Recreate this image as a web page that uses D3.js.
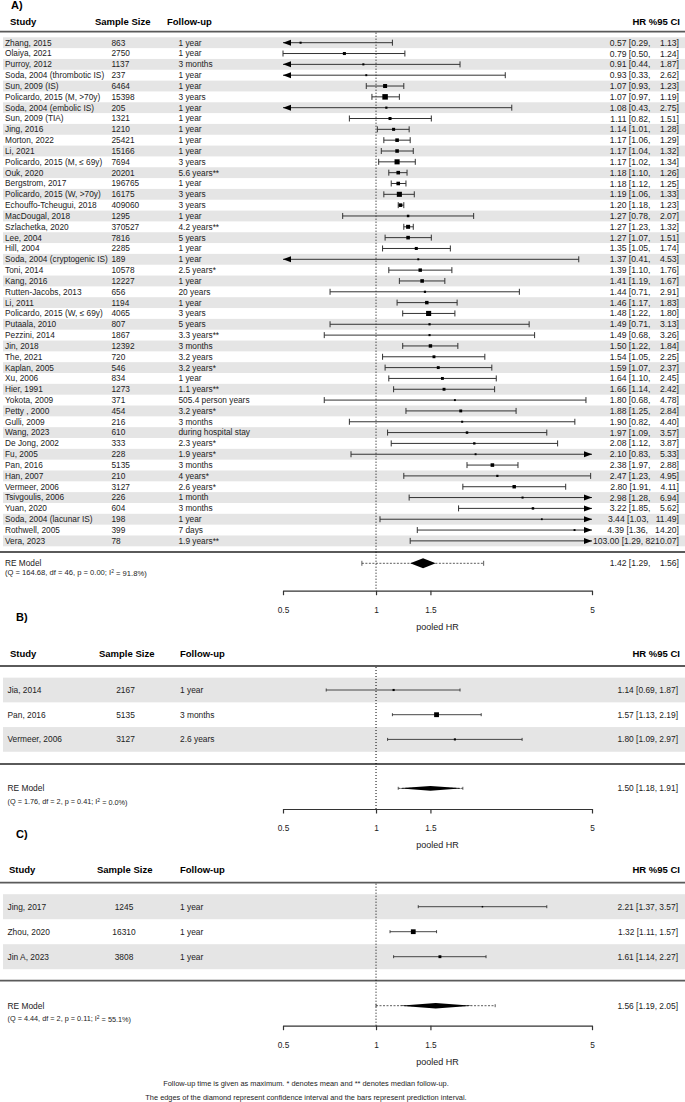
<!DOCTYPE html>
<html>
<head>
<meta charset="utf-8">
<script src="https://cdn.jsdelivr.net/npm/d3@7"></script>
<style>
  body { margin: 0; background: #fff; }
  svg { display: block; }
  text { font-family: "Liberation Sans", Arial, sans-serif; fill: #222; }
</style>
</head>
<body>
<svg id="chart" width="685" height="1102"></svg>
<script>
// ---- panel A data
var studiesA = ["Zhang, 2015", "Olaiya, 2021", "Purroy, 2012", "Soda, 2004 (thrombotic IS)", "Sun, 2009 (IS)", "Policardo, 2015 (M, >70y)", "Soda, 2004 (embolic IS)", "Sun, 2009 (TIA)", "Jing, 2016", "Morton, 2022", "Li, 2021", "Policardo, 2015 (M, \u2264 69y)", "Ouk, 2020", "Bergstrom, 2017", "Policardo, 2015 (W, >70y)", "Echouffo-Tcheugui, 2018", "MacDougal, 2018", "Szlachetka, 2020", "Lee, 2004", "Hill, 2004", "Soda, 2004 (cryptogenic IS)", "Toni, 2014", "Kang, 2016", "Rutten-Jacobs, 2013", "Li, 2011", "Policardo, 2015 (W, \u2264 69y)", "Putaala, 2010", "Pezzini, 2014", "Jin, 2018", "The, 2021", "Kaplan, 2005", "Xu, 2006", "Hier, 1991", "Yokota, 2009", "Petty , 2000", "Gulli, 2009", "Wang, 2023", "De Jong, 2002", "Fu, 2005", "Pan, 2016", "Han, 2007", "Vermeer, 2006", "Tsivgoulis, 2006", "Yuan, 2020", "Soda, 2004 (lacunar IS)", "Rothwell, 2005", "Vera, 2023"];
var sampleA = [863, 2750, 1137, 237, 6464, 15398, 205, 1321, 1210, 25421, 15166, 7694, 20201, 196765, 16175, 409060, 1295, 370527, 7816, 2285, 189, 10578, 12227, 656, 1194, 4065, 807, 1867, 12392, 720, 546, 834, 1273, 371, 454, 216, 610, 333, 228, 5135, 210, 3127, 226, 604, 198, 399, 78];
var followA = ["1 year", "1 year", "3 months", "1 year", "1 year", "3 years", "1 year", "1 year", "1 year", "1 year", "1 year", "3 years", "5.6 years**", "1 year", "3 years", "3 years", "1 year", "4.2 years**", "5 years", "1 year", "1 year", "2.5 years*", "1 year", "20 years", "1 year", "3 years", "5 years", "3.3 years**", "3 months", "3.2 years", "3.2 years*", "1 year", "1.1 years**", "505.4 person years", "3.2 years*", "3 months", "during hospital stay", "2.3 years*", "1.9 years*", "3 months", "4 years*", "2.6 years*", "1 month", "3 months", "1 year", "7 days", "1.9 years**"];
var hrA = [0.57, 0.79, 0.91, 0.93, 1.07, 1.07, 1.08, 1.11, 1.14, 1.17, 1.17, 1.17, 1.18, 1.18, 1.19, 1.20, 1.27, 1.27, 1.27, 1.35, 1.37, 1.39, 1.41, 1.44, 1.46, 1.48, 1.49, 1.49, 1.50, 1.54, 1.59, 1.64, 1.66, 1.80, 1.88, 1.90, 1.97, 2.08, 2.10, 2.38, 2.47, 2.80, 2.98, 3.22, 3.44, 4.39, 103.00];
var loA = [0.29, 0.50, 0.44, 0.33, 0.93, 0.97, 0.43, 0.82, 1.01, 1.06, 1.04, 1.02, 1.10, 1.12, 1.06, 1.18, 0.78, 1.23, 1.07, 1.05, 0.41, 1.10, 1.19, 0.71, 1.17, 1.22, 0.71, 0.68, 1.22, 1.05, 1.07, 1.10, 1.14, 0.68, 1.25, 0.82, 1.09, 1.12, 0.83, 1.97, 1.23, 1.91, 1.28, 1.85, 1.03, 1.36, 1.29];
var hiA = [1.13, 1.24, 1.87, 2.62, 1.23, 1.19, 2.75, 1.51, 1.28, 1.29, 1.32, 1.34, 1.26, 1.25, 1.33, 1.23, 2.07, 1.32, 1.51, 1.74, 4.53, 1.76, 1.67, 2.91, 1.83, 1.80, 3.13, 3.26, 1.84, 2.25, 2.37, 2.45, 2.42, 4.78, 2.84, 4.40, 3.57, 3.87, 5.33, 2.88, 4.95, 4.11, 6.94, 5.62, 11.49, 14.20, 8210.07];
// relative weights (%), estimated from the square sizes
var weightA = [0.7, 1.4, 0.7, 0.6, 2.1, 3.2, 0.8, 1.4, 1.4, 1.8, 1.8, 2.9, 1.8, 1.8, 2.9, 1.8, 1.0, 2.1, 1.8, 1.4, 0.6, 1.7, 1.8, 0.8, 1.7, 2.9, 0.8, 0.7, 1.7, 1.3, 1.3, 1.3, 1.3, 0.6, 1.3, 0.7, 1.0, 0.9, 0.6, 1.8, 0.8, 1.7, 0.7, 1.0, 0.5, 0.6, 0.1];
var pooledA = [1.42, 1.29, 1.56];   // estimate, ci low, ci high
var predA = [0.90, 2.23];           // prediction interval
var statsA = ["Q = 164.68, df = 46, p = 0.00; I", "2", " = 91.8%)"];

// ---- panel B data
var studiesB = ["Jia, 2014", "Pan, 2016", "Vermeer, 2006"];
var sampleB = [2167, 5135, 3127];
var followB = ["1 year", "3 months", "2.6 years"];
var hrB = [1.14, 1.57, 1.80];
var loB = [0.69, 1.13, 1.09];
var hiB = [1.87, 2.19, 2.97];
var weightB = [23.6, 53.3, 23.2];
var pooledB = [1.50, 1.18, 1.91];
var predB = [1.18, 1.91];
var statsB = ["Q = 1.76, df = 2, p = 0.41; I", "2", " = 0.0%)"];

// ---- panel C data
var studiesC = ["Jing, 2017", "Zhou, 2020", "Jin A, 2023"];
var sampleC = [1245, 16310, 3808];
var followC = ["1 year", "1 year", "1 year"];
var hrC = [2.21, 1.32, 1.61];
var loC = [1.37, 1.11, 1.14];
var hiC = [3.57, 1.57, 2.27];
var weightC = [20, 48, 32];
var pooledC = [1.56, 1.19, 2.05];
var predC = [1.00, 2.43];
var statsC = ["Q = 4.44, df = 2, p = 0.11; I", "2", " = 55.1%)"];

var tickVals = [0.5, 1, 1.5, 5];
var footer = ["Follow-up time is given as maximum.  * denotes mean and ** denotes median follow-up.",
              "The edges of the diamond represent confidence interval and the bars represent prediction interval."];

var W = 685;
var svg = d3.select("#chart");
var x = d3.scaleLog().domain([0.5, 5]).range([283, 592]);
var xmin = x.domain()[0], xmax = x.domain()[1];
var f2 = function(v) { return v.toFixed(2); };
var NB = "\u00A0";
var pad = function(s, w) { while (s.length < w) s = NB + s; return s; };

function drawPanel(p) {
    var g = svg.append("g");
    var n = p.studies.length;
    var rowY = function(i) { return p.row0 + i * p.step; };
    var size = d3.scaleLinear().domain(p.wDomain).range(p.sRange).clamp(true);

    // title + headers
    g.append("text").attr("x", p.titleX).attr("y", p.titleY).attr("dy", "0.35em")
        .attr("font-size", "11px").attr("font-weight", "bold").style("fill", "#000").text(p.title);
    var heads = [["Study", p.hStudy, "start"], ["Sample Size", p.hSample, "start"], ["Follow-up", p.hFollow, "start"], ["HR %95 CI", 680, "end"]];
    g.selectAll(".head").data(heads).enter().append("text")
        .attr("x", function(d) { return d[1]; })
        .attr("y", p.headY).attr("dy", "0.35em")
        .attr("text-anchor", function(d) { return d[2]; })
        .attr("font-size", "9.5px").attr("font-weight", "bold").style("fill", "#000")
        .text(function(d) { return d[0]; });

    // alternating bands
    g.selectAll(".band").data(d3.range(0, n, 2)).enter().append("rect")
        .attr("x", 3).attr("width", W - 3)
        .attr("y", function(i) { return rowY(i) - p.step / 2; })
        .attr("height", p.step)
        .attr("fill", "#e5e5e5");

    // rules
    [p.headLine, p.bottomLine].forEach(function(yy) {
        g.append("line").attr("x1", 0).attr("x2", W).attr("y1", yy).attr("y2", yy)
            .attr("stroke", "#5a5a5a").attr("stroke-width", 1.8);
    });

    // reference line at HR = 1
    g.append("line").attr("x1", x(1)).attr("x2", x(1))
        .attr("y1", p.headLine + 1).attr("y2", p.axisY)
        .attr("stroke", "#000").attr("stroke-width", 1).attr("stroke-dasharray", "1,2");

    // text columns
    var rows = g.selectAll(".row").data(d3.range(n)).enter().append("g")
        .attr("transform", function(i) { return "translate(0," + rowY(i) + ")"; });
    rows.append("text").attr("x", p.cStudy).attr("dy", "0.35em").attr("font-size", p.fs)
        .text(function(i) { return p.studies[i]; });
    rows.append("text").attr("x", p.cSample).attr("dy", "0.35em").attr("font-size", p.fs)
        .attr("text-anchor", p.sampleAnchor)
        .text(function(i) { return p.sample[i]; });
    rows.append("text").attr("x", p.cFollow).attr("dy", "0.35em").attr("font-size", p.fs)
        .text(function(i) { return p.follow[i]; });

    function hrText(sel, est, lo, hi) {
        var lab = p.split
            ? f2(est) + " [" + f2(lo) + "," + NB + pad(f2(hi), 7) + "]"
            : f2(est) + " [" + f2(lo) + ", " + f2(hi) + "]";
        sel.append("text").attr("x", p.hrX).attr("dy", "0.35em").attr("font-size", p.hrFs)
            .attr("text-anchor", "end").text(lab);
    }
    rows.each(function(i) { hrText(d3.select(this), p.hr[i], p.lo[i], p.hi[i]); });

    // confidence intervals
    var ah = p.arrowH, al = p.arrowL;
    rows.append("line")
        .attr("x1", function(i) { return x(Math.max(p.lo[i], xmin)); })
        .attr("x2", function(i) { return x(Math.min(p.hi[i], xmax)); })
        .attr("stroke", "#333").attr("stroke-width", p.lw);
    rows.filter(function(i) { return p.lo[i] >= xmin; }).append("line")
        .attr("x1", function(i) { return x(p.lo[i]); }).attr("x2", function(i) { return x(p.lo[i]); })
        .attr("y1", -p.capH).attr("y2", p.capH).attr("stroke", "#333").attr("stroke-width", p.lw);
    rows.filter(function(i) { return p.hi[i] <= xmax; }).append("line")
        .attr("x1", function(i) { return x(p.hi[i]); }).attr("x2", function(i) { return x(p.hi[i]); })
        .attr("y1", -p.capH).attr("y2", p.capH).attr("stroke", "#333").attr("stroke-width", p.lw);
    rows.filter(function(i) { return p.lo[i] < xmin; }).append("path")
        .attr("d", function() { var t = x(xmin); return "M" + t + ",0L" + (t + al) + "," + (-ah) + "L" + (t + al) + "," + ah + "Z"; })
        .attr("fill", "#000");
    rows.filter(function(i) { return p.hi[i] > xmax; }).append("path")
        .attr("d", function() { var t = x(xmax); return "M" + t + ",0L" + (t - al) + "," + (-ah) + "L" + (t - al) + "," + ah + "Z"; })
        .attr("fill", "#000");

    // point estimates
    rows.filter(function(i) { return p.hr[i] >= xmin && p.hr[i] <= xmax; }).append("rect")
        .attr("x", function(i) { return x(p.hr[i]) - size(p.weight[i]) / 2; })
        .attr("y", function(i) { return -size(p.weight[i]) / 2; })
        .attr("width", function(i) { return size(p.weight[i]); })
        .attr("height", function(i) { return size(p.weight[i]); })
        .attr("fill", "#000");

    // summary row
    var s = g.append("g").attr("transform", "translate(0," + p.reY + ")");
    s.append("text").attr("x", p.cStudy).attr("dy", "0.35em").attr("font-size", p.fs).text("RE Model");
    var q = s.append("text").attr("x", p.cStudy).attr("y", p.qY - p.reY).attr("dy", "0.35em").attr("font-size", p.qfs);
    q.append("tspan").text("(" + p.stats[0]);
    q.append("tspan").attr("dy", "-0.45em").attr("font-size", "5px").text(p.stats[1]);
    q.append("tspan").attr("dy", "0.45em").text(p.stats[2]);
    hrText(s, p.pooled[0], p.pooled[1], p.pooled[2]);

    s.append("line").attr("x1", x(p.pred[0])).attr("x2", x(p.pred[1]))
        .attr("stroke", "#333").attr("stroke-width", 0.8).attr("stroke-dasharray", "2,1.5");
    p.pred.forEach(function(v) {
        s.append("line").attr("x1", x(v)).attr("x2", x(v)).attr("y1", -p.predCap).attr("y2", p.predCap)
            .attr("stroke", "#333").attr("stroke-width", 0.8);
    });
    s.append("path")
        .attr("d", "M" + x(p.pooled[1]) + ",0L" + x(p.pooled[0]) + "," + (-p.dH) + "L" + x(p.pooled[2]) + ",0L" + x(p.pooled[0]) + "," + p.dH + "Z")
        .attr("fill", "#000");

    // axis
    var ax = g.append("g").attr("transform", "translate(0," + p.axisY + ")")
        .call(d3.axisBottom(x).tickValues(tickVals).tickFormat(function(d) { return d; })
            .tickSize(4.5).tickSizeOuter(0).tickPadding(11.5));
    ax.select(".domain").attr("stroke", "#333").attr("stroke-width", 1.2);
    ax.selectAll(".tick line").attr("stroke", "#333").attr("stroke-width", 1.2);
    ax.selectAll(".tick text").attr("font-size", "8.3px").attr("font-family", "Liberation Sans, Arial, sans-serif").style("fill", "#222");
    g.append("text").attr("x", (x.range()[0] + x.range()[1]) / 2).attr("y", p.axisY + 36).attr("dy", "0.35em")
        .attr("text-anchor", "middle").attr("font-size", "9px").text("pooled HR");
}

drawPanel({
    title: "A)", titleX: 11, titleY: 5, headY: 21.5, headLine: 31.7,
    hStudy: 10, hSample: 95, hFollow: 167,
    cStudy: 5, cSample: 111.5, cFollow: 178.5, sampleAnchor: "start",
    row0: 42.7, step: 10.83, bottomLine: 552, reY: 563.3, qY: 572.5, axisY: 590.7,
    studies: studiesA, sample: sampleA, follow: followA, hr: hrA, lo: loA, hi: hiA, weight: weightA,
    pooled: pooledA, pred: predA, stats: statsA,
    wDomain: [0.5, 3.2], sRange: [1.8, 5.5], fs: "8.3px", hrFs: "8.6px", qfs: "7.6px", split: true, hrX: 679,
    lw: 1, capH: 3, arrowH: 3, arrowL: 8, dH: 5, predCap: 2.5
});

drawPanel({
    title: "B)", titleX: 16, titleY: 616.7, headY: 653.3, headLine: 666,
    hStudy: 10, hSample: 99, hFollow: 180,
    cStudy: 7.5, cSample: 125.5, cFollow: 180, sampleAnchor: "middle",
    row0: 690, step: 24.7, bottomLine: 764, reY: 788.3, qY: 801.7, axisY: 809,
    studies: studiesB, sample: sampleB, follow: followB, hr: hrB, lo: loB, hi: hiB, weight: weightB,
    pooled: pooledB, pred: predB, stats: statsB,
    wDomain: [20, 55], sRange: [1.8, 5], fs: "8.4px", hrFs: "8.4px", qfs: "7.3px", split: false, hrX: 678,
    lw: 0.9, capH: 1.5, arrowH: 2, arrowL: 5, dH: 2.4, predCap: 1.5
});

drawPanel({
    title: "C)", titleX: 16, titleY: 834.3, headY: 870, headLine: 882.7,
    hStudy: 9, hSample: 97, hFollow: 180,
    cStudy: 7.5, cSample: 124, cFollow: 180, sampleAnchor: "middle",
    row0: 906.7, step: 25, bottomLine: 980.7, reY: 1005.7, qY: 1018.3, axisY: 1025.7,
    studies: studiesC, sample: sampleC, follow: followC, hr: hrC, lo: loC, hi: hiC, weight: weightC,
    pooled: pooledC, pred: predC, stats: statsC,
    wDomain: [20, 50], sRange: [1.5, 5], fs: "8.4px", hrFs: "8.4px", qfs: "7.3px", split: false, hrX: 678,
    lw: 0.9, capH: 1.5, arrowH: 2, arrowL: 5, dH: 2.7, predCap: 1.5
});

svg.selectAll(".foot").data(footer).enter().append("text")
    .attr("x", 306).attr("y", function(d, i) { return 1083.3 + i * 14; }).attr("dy", "0.35em")
    .attr("text-anchor", "middle").attr("font-size", "7.4px")
    .text(function(d) { return d; });
</script>
</body>
</html>
